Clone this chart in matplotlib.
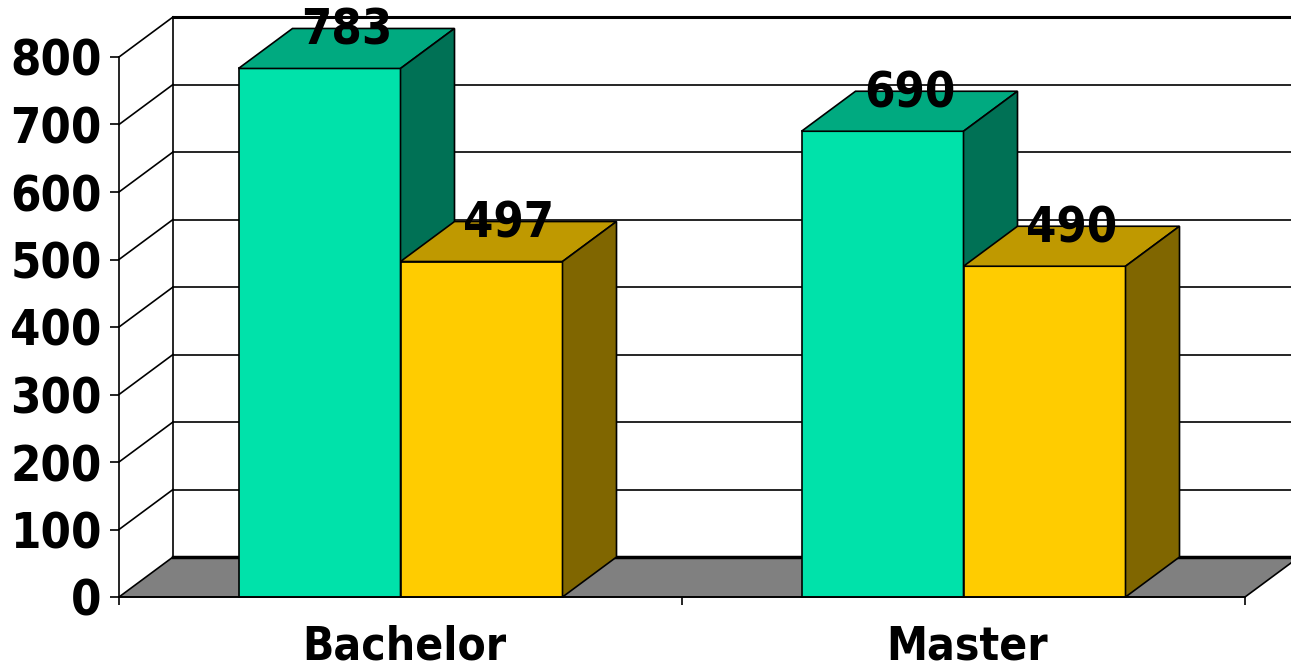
import matplotlib.pyplot as plt
from matplotlib.patches import Polygon

# data
categories = ['Bachelor', 'Master']
series_a = [783, 690]   # green
series_b = [497, 490]   # yellow
y_ticks = [0, 100, 200, 300, 400, 500, 600, 700, 800]

# colours: front, top, side (Excel style shading)
green = ['#00E2AA', '#00AA80', '#007155']
yellow = ['#FFCC00', '#BF9900', '#806600']

# layout (pixel scale -> data units)
px_x = 563.0          # pixels per category unit
px_y = 0.675          # pixels per value unit
dx = 54 / px_x        # depth offset in x
dy = 40 / px_y        # depth offset in value
bar_w = 162 / px_x
xmin, xmax = -119 / px_x, (1291 - 119) / px_x
ymin, ymax = -69 / px_y, 597 / px_y

font = dict(family='DejaVu Sans', fontstretch='condensed', fontweight='bold')

fig = plt.figure(figsize=(12.91, 6.66), dpi=100)
ax = fig.add_axes([0, 0, 1, 1])
ax.set_xlim(xmin, xmax)
ax.set_ylim(ymin, ymax)

lw = 1.2

# walls: grid lines on left and back wall
for v in y_ticks[1:]:
    ax.plot([0, dx], [v, v + dy], color='black', lw=lw, zorder=1)
    ax.plot([dx, xmax], [v + dy, v + dy], color='black', lw=lw, zorder=1)
ax.plot([dx, xmax], [y_ticks[-1] + dy] * 2, color='black', lw=2.2, zorder=1)
ax.plot([dx, dx], [dy, y_ticks[-1] + dy], color='black', lw=lw, zorder=1)

# floor
n = len(categories)
ax.add_patch(Polygon([(0, 0), (n, 0), (n + dx, dy), (dx, dy)],
                     closed=True, fc='#808080', ec='black', lw=lw, zorder=2))
ax.plot([dx, xmax], [dy, dy], color='black', lw=2.5, zorder=2)


def bar3d(x0, h, cols):
    x1 = x0 + bar_w
    faces = [
        ([(x0, 0), (x1, 0), (x1, h), (x0, h)], cols[0]),
        ([(x0, h), (x1, h), (x1 + dx, h + dy), (x0 + dx, h + dy)], cols[1]),
        ([(x1, 0), (x1 + dx, dy), (x1 + dx, h + dy), (x1, h)], cols[2]),
    ]
    for pts, c in faces:
        ax.add_patch(Polygon(pts, closed=True, fc=c, ec='black', lw=lw, zorder=3))


for i in range(n):
    c = i + 0.5
    bar3d(c - bar_w, series_a[i], green)
    bar3d(c, series_b[i], yellow)
    for x0, v in [(c - bar_w, series_a[i]), (c, series_b[i])]:
        ax.text(x0 + bar_w / 2 + dx / 2, v + dy * 0.6, str(v), ha='center',
                va='baseline', fontsize=35, zorder=5, **font)

# axes
for s in ['top', 'right']:
    ax.spines[s].set_visible(False)
ax.spines['left'].set_position(('data', 0))
ax.spines['left'].set_bounds(0, y_ticks[-1])
ax.spines['bottom'].set_position(('data', 0))
ax.spines['bottom'].set_bounds(0, n)
ax.spines['left'].set_linewidth(lw)
ax.spines['bottom'].set_linewidth(lw)
ax.spines['bottom'].set_zorder(4)

ax.set_yticks(y_ticks)
ax.set_yticklabels([str(t) for t in y_ticks], **font)
ax.tick_params(axis='y', direction='out', length=6.5, width=lw, pad=6, labelsize=35)

ax.set_xticks(range(n + 1))
ax.set_xticklabels([])
ax.set_xticks([i + 0.5 + 4 / px_x for i in range(n)], minor=True)
ax.set_xticklabels(categories, minor=True, **font)
ax.tick_params(axis='x', which='major', direction='out', length=6, width=lw)
ax.tick_params(axis='x', which='minor', length=0, pad=20, labelsize=33)

fig.savefig('out.png', dpi=100)
